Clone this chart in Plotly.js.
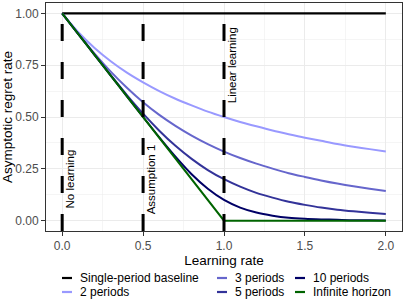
<!DOCTYPE html>
<html>
<head>
<meta charset="utf-8">
<script src="https://cdn.plot.ly/plotly-3.0.1.min.js"></script>
<style>html,body{margin:0;padding:0;background:#fff;}#chart{width:407px;height:305px;}</style>
</head>
<body>
<div id="chart"></div>
<script>
// ---- data ----
const learningRate = [0.0,0.1,0.2,0.3,0.4,0.5,0.6,0.7,0.8,0.9,1.0,1.1,1.2,1.3,1.4,1.5,1.6,1.7,1.8,1.9,2.0];
const baseline   = [1,1,1,1,1,1,1,1,1,1,1,1,1,1,1,1,1,1,1,1,1];
const periods2   = [1.000,0.909,0.833,0.769,0.714,0.667,0.625,0.588,0.556,0.526,0.500,0.476,0.455,0.435,0.417,0.400,0.385,0.370,0.357,0.345,0.333];
const periods3   = [1.000,0.901,0.806,0.719,0.641,0.571,0.510,0.457,0.410,0.369,0.333,0.302,0.275,0.251,0.229,0.211,0.194,0.179,0.166,0.154,0.143];
const periods5   = [1.000,0.900,0.800,0.702,0.606,0.516,0.434,0.361,0.298,0.244,0.200,0.164,0.134,0.111,0.091,0.076,0.063,0.053,0.045,0.038,0.032];
const periods10  = [1.000,0.900,0.800,0.700,0.600,0.500,0.402,0.309,0.224,0.154,0.100,0.063,0.039,0.024,0.014,0.009,0.006,0.004,0.002,0.002,0.001];
const infinite   = [1.0,0.9,0.8,0.7,0.6,0.5,0.4,0.3,0.2,0.1,0.0,0,0,0,0,0,0,0,0,0,0];

const seriesNames  = ["Single-period baseline","2 periods","3 periods","5 periods","10 periods","Infinite horizon"];
const seriesValues = [baseline, periods2, periods3, periods5, periods10, infinite];
const seriesColors = ["#000000","#9999FF","#6666CC","#333399","#000066","#006400"];

const markerX     = [0, 0.5, 1];
const markerLabels = ["No learning","Assumption 1","Linear learning"];

const xTitle = "Learning rate";
const yTitle = "Asymptotic regret rate";

// ---- layout helpers ----
const W = 407, H = 305;
const M = {l:46, r:5, t:3, b:74, pad:0};
const pw = W - M.l - M.r, ph = H - M.t - M.b;
const px2x = px => (px - M.l) / pw;
const py2y = py => (H - M.b - py) / ph;
const FONT = '"Liberation Sans", Arial, Helvetica, sans-serif';

const traces = seriesNames.map((name, i) => ({
  type: 'scatter', mode: 'lines', name: name,
  x: learningRate, y: seriesValues[i],
  line: {color: seriesColors[i], width: i === 0 ? 2.4 : 2,
         shape: (i === 0 || i === 5) ? 'linear' : 'spline', smoothing: 0.8},
  showlegend: false, hoverinfo: 'skip'
}));

const shapes = markerX.map(v => ({
  type: 'line', xref: 'x', yref: 'paper', x0: v, x1: v, y0: 0, y1: 1,
  line: {color: '#000000', width: 3, dash: '17px,21px'}, layer: 'above'
}));

const labelPos = [[0.05, 0.2], [0.55, 0.2], [1.05, 0.75]];
const annotations = markerLabels.map((t, i) => ({
  text: t, x: labelPos[i][0], y: labelPos[i][1], xref: 'x', yref: 'y',
  textangle: -90, showarrow: false, xanchor: 'center', yanchor: 'middle',
  font: {family: FONT, size: 11.5, color: '#000000'}
}));

// legend (3 columns x 2 rows, filled by column)
const colKeyPx = [62, 217, 295];
const rowPy = [278, 292];
seriesNames.forEach((name, i) => {
  const col = Math.floor(i / 2), row = i % 2;
  const kx = colKeyPx[col], ky = rowPy[row];
  shapes.push({type: 'line', xref: 'paper', yref: 'paper',
    x0: px2x(kx), x1: px2x(kx + 10), y0: py2y(ky), y1: py2y(ky),
    line: {color: seriesColors[i], width: 2.2}});
  annotations.push({text: name, xref: 'paper', yref: 'paper',
    x: px2x(kx + 17), y: py2y(ky), xanchor: 'left', yanchor: 'middle',
    showarrow: false, borderpad: 0,
    font: {family: FONT, size: 12, color: '#000000'}});
});

const axisCommon = {
  showline: true, mirror: true, linecolor: '#333333', linewidth: 1,
  ticks: 'outside', ticklen: 4, tickwidth: 1, tickcolor: '#333333',
  showgrid: true, gridcolor: '#EBEBEB', gridwidth: 1, zeroline: false,
  tickfont: {family: FONT, size: 12, color: '#4D4D4D'}
};

const layout = {
  width: W, height: H, margin: M,
  paper_bgcolor: '#ffffff', plot_bgcolor: '#ffffff',
  showlegend: false,
  font: {family: FONT},
  xaxis: Object.assign({}, axisCommon, {
    range: [-0.1, 2.1], tick0: 0, dtick: 0.5, tickformat: '.1f',
    minor: {dtick: 0.25, showgrid: true, gridcolor: '#EBEBEB', gridwidth: 0.5},
    title: {text: xTitle, font: {family: FONT, size: 13.5, color: '#000000'}, standoff: 1}
  }),
  yaxis: Object.assign({}, axisCommon, {
    range: [-0.05, 1.05], tick0: 0, dtick: 0.25, tickformat: '.2f',
    minor: {dtick: 0.125, showgrid: true, gridcolor: '#EBEBEB', gridwidth: 0.5},
    title: {text: yTitle, font: {family: FONT, size: 13.5, color: '#000000'}, standoff: 4}
  }),
  shapes: shapes,
  annotations: annotations
};

Plotly.newPlot('chart', traces, layout, {staticPlot: true, displayModeBar: false});
</script>
</body>
</html>
